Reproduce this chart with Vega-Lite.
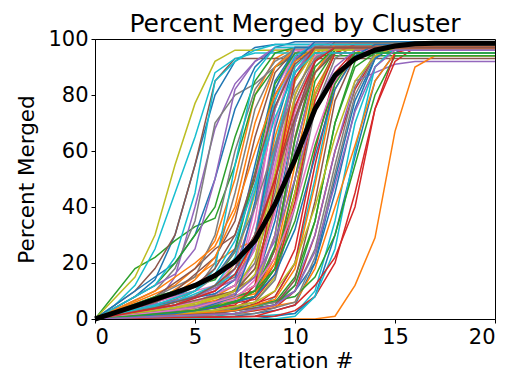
{
  "$schema": "https://vega.github.io/schema/vega-lite/v6.json",
  "width": 400,
  "height": 280,
  "padding": {"left": 16, "top": 12, "right": 5, "bottom": 0},
  "title": {"text": "Percent Merged by Cluster", "font": "DejaVu Sans", "fontSize": 25, "fontWeight": "normal", "color": "black", "offset": -9},
  "config": {
    "view": {"stroke": "black", "strokeWidth": 1},
    "axis": {"labelFont": "DejaVu Sans", "titleFont": "DejaVu Sans", "labelFontSize": 21, "titleFontSize": 21.5, "titleFontWeight": "normal", "labelColor": "black", "titleColor": "black", "domainColor": "black", "tickColor": "black", "tickSize": 4, "grid": false}
  },
  "datasets": {
    "c": [
      {"s":0,"x":0,"y":0},{"s":0,"x":2,"y":8},{"s":0,"x":3,"y":14},{"s":0,"x":4,"y":30},{"s":0,"x":5,"y":55},{"s":0,"x":6,"y":80},{"s":0,"x":7,"y":92},{"s":0,"x":8,"y":97},{"s":0,"x":9,"y":98},{"s":0,"x":20,"y":98},
      {"s":1,"x":0,"y":0},{"s":1,"x":2,"y":6},{"s":1,"x":4,"y":12},{"s":1,"x":5,"y":18},{"s":1,"x":6,"y":28},{"s":1,"x":7,"y":50},{"s":1,"x":8,"y":80},{"s":1,"x":9,"y":93},{"s":1,"x":10,"y":97},{"s":1,"x":20,"y":97},
      {"s":2,"x":0,"y":0},{"s":2,"x":2,"y":18},{"s":2,"x":3,"y":22},{"s":2,"x":4,"y":28},{"s":2,"x":5,"y":33},{"s":2,"x":6,"y":36},{"s":2,"x":7,"y":55},{"s":2,"x":8,"y":80},{"s":2,"x":9,"y":90},{"s":2,"x":10,"y":94},{"s":2,"x":20,"y":94},
      {"s":3,"x":0,"y":0},{"s":3,"x":3,"y":4},{"s":3,"x":5,"y":8},{"s":3,"x":6,"y":12},{"s":3,"x":7,"y":18},{"s":3,"x":8,"y":30},{"s":3,"x":9,"y":60},{"s":3,"x":10,"y":88},{"s":3,"x":11,"y":97},{"s":3,"x":12,"y":99},{"s":3,"x":20,"y":99},
      {"s":4,"x":0,"y":0},{"s":4,"x":3,"y":5},{"s":4,"x":4,"y":15},{"s":4,"x":5,"y":40},{"s":4,"x":6,"y":68},{"s":4,"x":7,"y":84},{"s":4,"x":8,"y":92},{"s":4,"x":9,"y":96},{"s":4,"x":20,"y":96},
      {"s":5,"x":0,"y":0},{"s":5,"x":2,"y":10},{"s":5,"x":3,"y":18},{"s":5,"x":4,"y":30},{"s":5,"x":5,"y":55},{"s":5,"x":6,"y":85},{"s":5,"x":7,"y":93},{"s":5,"x":20,"y":93},
      {"s":6,"x":0,"y":0},{"s":6,"x":4,"y":3},{"s":6,"x":6,"y":6},{"s":6,"x":7,"y":10},{"s":6,"x":8,"y":40},{"s":6,"x":9,"y":75},{"s":6,"x":10,"y":95},{"s":6,"x":11,"y":98},{"s":6,"x":20,"y":98},
      {"s":7,"x":0,"y":0},{"s":7,"x":3,"y":10},{"s":7,"x":4,"y":18},{"s":7,"x":5,"y":35},{"s":7,"x":6,"y":70},{"s":7,"x":7,"y":80},{"s":7,"x":8,"y":84},{"s":7,"x":9,"y":90},{"s":7,"x":10,"y":95},{"s":7,"x":11,"y":97},{"s":7,"x":20,"y":97},
      {"s":8,"x":0,"y":0},{"s":8,"x":2,"y":15},{"s":8,"x":3,"y":30},{"s":8,"x":4,"y":55},{"s":8,"x":5,"y":77},{"s":8,"x":6,"y":92},{"s":8,"x":7,"y":96},{"s":8,"x":20,"y":96},
      {"s":9,"x":0,"y":0},{"s":9,"x":1,"y":5},{"s":9,"x":2,"y":12},{"s":9,"x":3,"y":25},{"s":9,"x":4,"y":45},{"s":9,"x":5,"y":65},{"s":9,"x":6,"y":88},{"s":9,"x":7,"y":93},{"s":9,"x":8,"y":95},{"s":9,"x":20,"y":95},
      {"s":10,"x":0,"y":0},{"s":10,"x":2,"y":10},{"s":10,"x":4,"y":20},{"s":10,"x":5,"y":30},{"s":10,"x":6,"y":50},{"s":10,"x":7,"y":75},{"s":10,"x":8,"y":90},{"s":10,"x":9,"y":97},{"s":10,"x":10,"y":99},{"s":10,"x":20,"y":99},
      {"s":11,"x":0,"y":0},{"s":11,"x":3,"y":6},{"s":11,"x":5,"y":15},{"s":11,"x":6,"y":20},{"s":11,"x":7,"y":25},{"s":11,"x":8,"y":28},{"s":11,"x":9,"y":50},{"s":11,"x":10,"y":80},{"s":11,"x":11,"y":95},{"s":11,"x":12,"y":98},{"s":11,"x":20,"y":98},
      {"s":12,"x":0,"y":0},{"s":12,"x":3,"y":12},{"s":12,"x":4,"y":20},{"s":12,"x":5,"y":30},{"s":12,"x":6,"y":40},{"s":12,"x":7,"y":65},{"s":12,"x":8,"y":85},{"s":12,"x":9,"y":95},{"s":12,"x":10,"y":97},{"s":12,"x":20,"y":97},
      {"s":13,"x":0,"y":0},{"s":13,"x":5,"y":2},{"s":13,"x":7,"y":4},{"s":13,"x":8,"y":8},{"s":13,"x":9,"y":20},{"s":13,"x":10,"y":45},{"s":13,"x":11,"y":80},{"s":13,"x":12,"y":95},{"s":13,"x":13,"y":98},{"s":13,"x":20,"y":98},
      {"s":14,"x":0,"y":0},{"s":14,"x":2,"y":8},{"s":14,"x":4,"y":16},{"s":14,"x":5,"y":25},{"s":14,"x":6,"y":50},{"s":14,"x":7,"y":82},{"s":14,"x":8,"y":92},{"s":14,"x":9,"y":97},{"s":14,"x":20,"y":97},
      {"s":15,"x":0,"y":0},{"s":15,"x":3,"y":8},{"s":15,"x":5,"y":18},{"s":15,"x":6,"y":25},{"s":15,"x":7,"y":30},{"s":15,"x":8,"y":50},{"s":15,"x":9,"y":80},{"s":15,"x":10,"y":93},{"s":15,"x":11,"y":98},{"s":15,"x":20,"y":98},
      {"s":16,"x":0,"y":0},{"s":16,"x":5,"y":5},{"s":16,"x":7,"y":10},{"s":16,"x":8,"y":20},{"s":16,"x":9,"y":55},{"s":16,"x":10,"y":85},{"s":16,"x":11,"y":96},{"s":16,"x":12,"y":99},{"s":16,"x":20,"y":99},
      {"s":17,"x":0,"y":0},{"s":17,"x":3,"y":8},{"s":17,"x":5,"y":15},{"s":17,"x":6,"y":30},{"s":17,"x":7,"y":60},{"s":17,"x":8,"y":82},{"s":17,"x":9,"y":92},{"s":17,"x":10,"y":96},{"s":17,"x":20,"y":96},
      {"s":18,"x":0,"y":0},{"s":18,"x":4,"y":6},{"s":18,"x":6,"y":10},{"s":18,"x":7,"y":20},{"s":18,"x":8,"y":45},{"s":18,"x":9,"y":75},{"s":18,"x":10,"y":92},{"s":18,"x":11,"y":98},{"s":18,"x":20,"y":98},
      {"s":19,"x":0,"y":0},{"s":19,"x":3,"y":12},{"s":19,"x":4,"y":22},{"s":19,"x":5,"y":45},{"s":19,"x":6,"y":85},{"s":19,"x":7,"y":92},{"s":19,"x":8,"y":96},{"s":19,"x":9,"y":98},{"s":19,"x":20,"y":98},
      {"s":20,"x":0,"y":0},{"s":20,"x":5,"y":4},{"s":20,"x":7,"y":8},{"s":20,"x":8,"y":12},{"s":20,"x":9,"y":35},{"s":20,"x":10,"y":70},{"s":20,"x":11,"y":92},{"s":20,"x":12,"y":98},{"s":20,"x":20,"y":98},
      {"s":21,"x":0,"y":0},{"s":21,"x":4,"y":4},{"s":21,"x":6,"y":8},{"s":21,"x":7,"y":12},{"s":21,"x":8,"y":30},{"s":21,"x":9,"y":65},{"s":21,"x":10,"y":88},{"s":21,"x":11,"y":96},{"s":21,"x":20,"y":96},
      {"s":22,"x":0,"y":0},{"s":22,"x":4,"y":3},{"s":22,"x":6,"y":5},{"s":22,"x":8,"y":8},{"s":22,"x":9,"y":25},{"s":22,"x":10,"y":60},{"s":22,"x":11,"y":88},{"s":22,"x":12,"y":96},{"s":22,"x":13,"y":98},{"s":22,"x":20,"y":98},
      {"s":23,"x":0,"y":0},{"s":23,"x":6,"y":2},{"s":23,"x":8,"y":5},{"s":23,"x":9,"y":10},{"s":23,"x":10,"y":25},{"s":23,"x":11,"y":60},{"s":23,"x":12,"y":88},{"s":23,"x":13,"y":96},{"s":23,"x":14,"y":98},{"s":23,"x":20,"y":98},
      {"s":24,"x":0,"y":0},{"s":24,"x":5,"y":6},{"s":24,"x":7,"y":12},{"s":24,"x":8,"y":25},{"s":24,"x":9,"y":60},{"s":24,"x":10,"y":88},{"s":24,"x":11,"y":97},{"s":24,"x":20,"y":97},
      {"s":25,"x":0,"y":0},{"s":25,"x":4,"y":10},{"s":25,"x":5,"y":16},{"s":25,"x":6,"y":22},{"s":25,"x":7,"y":35},{"s":25,"x":8,"y":65},{"s":25,"x":9,"y":88},{"s":25,"x":10,"y":96},{"s":25,"x":20,"y":96},
      {"s":26,"x":0,"y":0},{"s":26,"x":4,"y":2},{"s":26,"x":6,"y":4},{"s":26,"x":7,"y":8},{"s":26,"x":8,"y":30},{"s":26,"x":9,"y":70},{"s":26,"x":10,"y":94},{"s":26,"x":11,"y":99},{"s":26,"x":20,"y":99},
      {"s":27,"x":0,"y":0},{"s":27,"x":2,"y":5},{"s":27,"x":5,"y":10},{"s":27,"x":6,"y":20},{"s":27,"x":7,"y":45},{"s":27,"x":8,"y":75},{"s":27,"x":9,"y":90},{"s":27,"x":10,"y":97},{"s":27,"x":20,"y":97},
      {"s":28,"x":0,"y":0},{"s":28,"x":5,"y":3},{"s":28,"x":7,"y":6},{"s":28,"x":8,"y":10},{"s":28,"x":9,"y":30},{"s":28,"x":10,"y":70},{"s":28,"x":11,"y":93},{"s":28,"x":12,"y":98},{"s":28,"x":20,"y":98},
      {"s":29,"x":0,"y":0},{"s":29,"x":6,"y":1},{"s":29,"x":8,"y":3},{"s":29,"x":9,"y":8},{"s":29,"x":10,"y":20},{"s":29,"x":11,"y":50},{"s":29,"x":12,"y":85},{"s":29,"x":13,"y":96},{"s":29,"x":14,"y":99},{"s":29,"x":20,"y":99},
      {"s":30,"x":0,"y":0},{"s":30,"x":7,"y":1},{"s":30,"x":9,"y":3},{"s":30,"x":10,"y":5},{"s":30,"x":11,"y":20},{"s":30,"x":12,"y":50},{"s":30,"x":13,"y":78},{"s":30,"x":14,"y":93},{"s":30,"x":15,"y":98},{"s":30,"x":20,"y":98},
      {"s":31,"x":0,"y":0},{"s":31,"x":5,"y":5},{"s":31,"x":8,"y":10},{"s":31,"x":9,"y":20},{"s":31,"x":10,"y":50},{"s":31,"x":11,"y":82},{"s":31,"x":12,"y":95},{"s":31,"x":13,"y":98},{"s":31,"x":20,"y":98},
      {"s":32,"x":0,"y":0},{"s":32,"x":6,"y":2},{"s":32,"x":9,"y":6},{"s":32,"x":10,"y":15},{"s":32,"x":11,"y":35},{"s":32,"x":12,"y":70},{"s":32,"x":13,"y":92},{"s":32,"x":14,"y":97},{"s":32,"x":20,"y":97},
      {"s":33,"x":0,"y":0},{"s":33,"x":7,"y":2},{"s":33,"x":9,"y":4},{"s":33,"x":10,"y":10},{"s":33,"x":11,"y":30},{"s":33,"x":12,"y":60},{"s":33,"x":13,"y":82},{"s":33,"x":14,"y":94},{"s":33,"x":15,"y":97},{"s":33,"x":20,"y":97},
      {"s":34,"x":0,"y":0},{"s":34,"x":6,"y":3},{"s":34,"x":9,"y":6},{"s":34,"x":10,"y":12},{"s":34,"x":11,"y":30},{"s":34,"x":12,"y":60},{"s":34,"x":13,"y":85},{"s":34,"x":14,"y":88},{"s":34,"x":15,"y":91},{"s":34,"x":16,"y":92},{"s":34,"x":20,"y":92},
      {"s":35,"x":0,"y":0},{"s":35,"x":6,"y":4},{"s":35,"x":8,"y":8},{"s":35,"x":9,"y":18},{"s":35,"x":10,"y":45},{"s":35,"x":11,"y":80},{"s":35,"x":12,"y":96},{"s":35,"x":13,"y":99},{"s":35,"x":20,"y":99},
      {"s":36,"x":0,"y":0},{"s":36,"x":5,"y":8},{"s":36,"x":7,"y":14},{"s":36,"x":8,"y":25},{"s":36,"x":9,"y":55},{"s":36,"x":10,"y":85},{"s":36,"x":11,"y":97},{"s":36,"x":20,"y":97},
      {"s":37,"x":0,"y":0},{"s":37,"x":6,"y":3},{"s":37,"x":9,"y":6},{"s":37,"x":10,"y":10},{"s":37,"x":11,"y":25},{"s":37,"x":12,"y":55},{"s":37,"x":13,"y":83},{"s":37,"x":14,"y":95},{"s":37,"x":15,"y":98},{"s":37,"x":20,"y":98},
      {"s":38,"x":0,"y":0},{"s":38,"x":5,"y":2},{"s":38,"x":8,"y":6},{"s":38,"x":9,"y":15},{"s":38,"x":10,"y":45},{"s":38,"x":11,"y":80},{"s":38,"x":12,"y":95},{"s":38,"x":13,"y":99},{"s":38,"x":20,"y":99},
      {"s":39,"x":0,"y":0},{"s":39,"x":8,"y":1},{"s":39,"x":10,"y":2},{"s":39,"x":11,"y":10},{"s":39,"x":12,"y":35},{"s":39,"x":13,"y":70},{"s":39,"x":14,"y":90},{"s":39,"x":15,"y":97},{"s":39,"x":20,"y":97},
      {"s":40,"x":0,"y":0},{"s":40,"x":8,"y":0},{"s":40,"x":10,"y":2},{"s":40,"x":11,"y":8},{"s":40,"x":12,"y":30},{"s":40,"x":13,"y":58},{"s":40,"x":14,"y":85},{"s":40,"x":15,"y":95},{"s":40,"x":16,"y":99},{"s":40,"x":20,"y":99},
      {"s":41,"x":0,"y":0},{"s":41,"x":11,"y":0},{"s":41,"x":12,"y":1},{"s":41,"x":13,"y":12},{"s":41,"x":14,"y":29},{"s":41,"x":15,"y":67},{"s":41,"x":16,"y":90},{"s":41,"x":17,"y":94},{"s":41,"x":20,"y":94},
      {"s":42,"x":0,"y":0},{"s":42,"x":7,"y":2},{"s":42,"x":9,"y":5},{"s":42,"x":10,"y":12},{"s":42,"x":11,"y":35},{"s":42,"x":12,"y":70},{"s":42,"x":13,"y":90},{"s":42,"x":14,"y":95},{"s":42,"x":15,"y":96},{"s":42,"x":20,"y":96},
      {"s":43,"x":0,"y":0},{"s":43,"x":9,"y":1},{"s":43,"x":10,"y":3},{"s":43,"x":11,"y":8},{"s":43,"x":12,"y":20},{"s":43,"x":13,"y":45},{"s":43,"x":14,"y":75},{"s":43,"x":15,"y":92},{"s":43,"x":16,"y":97},{"s":43,"x":20,"y":97},
      {"s":44,"x":0,"y":0},{"s":44,"x":6,"y":5},{"s":44,"x":8,"y":10},{"s":44,"x":9,"y":25},{"s":44,"x":10,"y":60},{"s":44,"x":11,"y":88},{"s":44,"x":12,"y":97},{"s":44,"x":20,"y":97},
      {"s":45,"x":0,"y":0},{"s":45,"x":6,"y":6},{"s":45,"x":8,"y":15},{"s":45,"x":9,"y":40},{"s":45,"x":10,"y":75},{"s":45,"x":11,"y":93},{"s":45,"x":12,"y":98},{"s":45,"x":20,"y":98},
      {"s":46,"x":0,"y":0},{"s":46,"x":6,"y":4},{"s":46,"x":8,"y":10},{"s":46,"x":9,"y":40},{"s":46,"x":10,"y":80},{"s":46,"x":11,"y":96},{"s":46,"x":20,"y":96},
      {"s":47,"x":0,"y":0},{"s":47,"x":5,"y":6},{"s":47,"x":7,"y":12},{"s":47,"x":8,"y":20},{"s":47,"x":9,"y":45},{"s":47,"x":10,"y":78},{"s":47,"x":11,"y":93},{"s":47,"x":12,"y":97},{"s":47,"x":20,"y":97},
      {"s":48,"x":0,"y":0},{"s":48,"x":4,"y":4},{"s":48,"x":7,"y":10},{"s":48,"x":8,"y":18},{"s":48,"x":9,"y":50},{"s":48,"x":10,"y":85},{"s":48,"x":11,"y":96},{"s":48,"x":20,"y":96},
      {"s":49,"x":0,"y":0},{"s":49,"x":9,"y":0},{"s":49,"x":10,"y":1},{"s":49,"x":11,"y":8},{"s":49,"x":12,"y":25},{"s":49,"x":13,"y":60},{"s":49,"x":14,"y":90},{"s":49,"x":15,"y":97},{"s":49,"x":20,"y":97},
      {"s":50,"x":0,"y":0},{"s":50,"x":4,"y":8},{"s":50,"x":6,"y":15},{"s":50,"x":7,"y":25},{"s":50,"x":8,"y":55},{"s":50,"x":9,"y":85},{"s":50,"x":10,"y":96},{"s":50,"x":20,"y":96},
      {"s":51,"x":0,"y":0},{"s":51,"x":3,"y":10},{"s":51,"x":5,"y":20},{"s":51,"x":6,"y":26},{"s":51,"x":7,"y":40},{"s":51,"x":8,"y":70},{"s":51,"x":9,"y":90},{"s":51,"x":10,"y":96},{"s":51,"x":20,"y":96},
      {"s":52,"x":0,"y":0},{"s":52,"x":5,"y":3},{"s":52,"x":8,"y":8},{"s":52,"x":9,"y":18},{"s":52,"x":10,"y":50},{"s":52,"x":11,"y":85},{"s":52,"x":12,"y":96},{"s":52,"x":20,"y":96},
      {"s":53,"x":0,"y":0},{"s":53,"x":7,"y":3},{"s":53,"x":9,"y":8},{"s":53,"x":10,"y":20},{"s":53,"x":11,"y":55},{"s":53,"x":12,"y":85},{"s":53,"x":13,"y":96},{"s":53,"x":20,"y":96},
      {"s":54,"x":0,"y":0},{"s":54,"x":4,"y":5},{"s":54,"x":6,"y":10},{"s":54,"x":7,"y":18},{"s":54,"x":8,"y":40},{"s":54,"x":9,"y":75},{"s":54,"x":10,"y":93},{"s":54,"x":11,"y":98},{"s":54,"x":20,"y":98},
      {"s":55,"x":0,"y":0},{"s":55,"x":7,"y":3},{"s":55,"x":8,"y":8},{"s":55,"x":9,"y":25},{"s":55,"x":10,"y":65},{"s":55,"x":11,"y":92},{"s":55,"x":12,"y":99},{"s":55,"x":20,"y":99},
      {"s":56,"x":0,"y":0},{"s":56,"x":5,"y":6},{"s":56,"x":7,"y":12},{"s":56,"x":8,"y":35},{"s":56,"x":9,"y":78},{"s":56,"x":10,"y":96},{"s":56,"x":20,"y":96},
      {"s":57,"x":0,"y":0},{"s":57,"x":4,"y":5},{"s":57,"x":7,"y":15},{"s":57,"x":8,"y":30},{"s":57,"x":9,"y":60},{"s":57,"x":10,"y":88},{"s":57,"x":11,"y":97},{"s":57,"x":20,"y":97},
      {"s":58,"x":0,"y":0},{"s":58,"x":6,"y":4},{"s":58,"x":8,"y":12},{"s":58,"x":9,"y":30},{"s":58,"x":10,"y":70},{"s":58,"x":11,"y":94},{"s":58,"x":12,"y":98},{"s":58,"x":20,"y":98},
      {"s":59,"x":0,"y":0},{"s":59,"x":4,"y":6},{"s":59,"x":5,"y":10},{"s":59,"x":6,"y":18},{"s":59,"x":7,"y":55},{"s":59,"x":8,"y":88},{"s":59,"x":9,"y":97},{"s":59,"x":20,"y":97},
      {"s":60,"x":0,"y":0},{"s":60,"x":6,"y":2},{"s":60,"x":9,"y":5},{"s":60,"x":10,"y":10},{"s":60,"x":11,"y":20},{"s":60,"x":12,"y":45},{"s":60,"x":13,"y":75},{"s":60,"x":14,"y":93},{"s":60,"x":15,"y":98},{"s":60,"x":20,"y":98},
      {"s":61,"x":0,"y":0},{"s":61,"x":7,"y":2},{"s":61,"x":10,"y":6},{"s":61,"x":11,"y":18},{"s":61,"x":12,"y":40},{"s":61,"x":13,"y":62},{"s":61,"x":14,"y":85},{"s":61,"x":15,"y":95},{"s":61,"x":20,"y":95},
      {"s":62,"x":0,"y":0},{"s":62,"x":6,"y":2},{"s":62,"x":10,"y":8},{"s":62,"x":11,"y":15},{"s":62,"x":12,"y":30},{"s":62,"x":13,"y":55},{"s":62,"x":14,"y":80},{"s":62,"x":15,"y":94},{"s":62,"x":20,"y":94},
      {"s":63,"x":0,"y":0},{"s":63,"x":8,"y":1},{"s":63,"x":10,"y":5},{"s":63,"x":11,"y":12},{"s":63,"x":12,"y":22},{"s":63,"x":13,"y":40},{"s":63,"x":14,"y":75},{"s":63,"x":15,"y":95},{"s":63,"x":16,"y":97},{"s":63,"x":20,"y":97},
      {"s":64,"x":0,"y":0},{"s":64,"x":3,"y":3},{"s":64,"x":6,"y":6},{"s":64,"x":8,"y":10},{"s":64,"x":9,"y":30},{"s":64,"x":10,"y":70},{"s":64,"x":11,"y":93},{"s":64,"x":12,"y":98},{"s":64,"x":20,"y":98},
      {"s":65,"x":0,"y":0},{"s":65,"x":4,"y":5},{"s":65,"x":7,"y":10},{"s":65,"x":8,"y":18},{"s":65,"x":9,"y":40},{"s":65,"x":10,"y":72},{"s":65,"x":11,"y":92},{"s":65,"x":12,"y":97},{"s":65,"x":20,"y":97},
      {"s":66,"x":0,"y":0},{"s":66,"x":3,"y":6},{"s":66,"x":6,"y":12},{"s":66,"x":7,"y":20},{"s":66,"x":8,"y":48},{"s":66,"x":9,"y":82},{"s":66,"x":10,"y":95},{"s":66,"x":20,"y":95},
      {"s":67,"x":0,"y":0},{"s":67,"x":6,"y":3},{"s":67,"x":8,"y":6},{"s":67,"x":9,"y":14},{"s":67,"x":10,"y":40},{"s":67,"x":11,"y":75},{"s":67,"x":12,"y":93},{"s":67,"x":13,"y":98},{"s":67,"x":20,"y":98},
      {"s":68,"x":0,"y":0},{"s":68,"x":4,"y":4},{"s":68,"x":7,"y":9},{"s":68,"x":8,"y":16},{"s":68,"x":9,"y":42},{"s":68,"x":10,"y":80},{"s":68,"x":11,"y":96},{"s":68,"x":20,"y":96},
      {"s":69,"x":0,"y":0},{"s":69,"x":5,"y":8},{"s":69,"x":7,"y":16},{"s":69,"x":8,"y":30},{"s":69,"x":9,"y":62},{"s":69,"x":10,"y":90},{"s":69,"x":11,"y":97},{"s":69,"x":20,"y":97},
      {"s":70,"x":0,"y":0},{"s":70,"x":3,"y":5},{"s":70,"x":6,"y":9},{"s":70,"x":7,"y":14},{"s":70,"x":8,"y":42},{"s":70,"x":9,"y":82},{"s":70,"x":10,"y":97},{"s":70,"x":20,"y":97},
      {"s":71,"x":0,"y":0},{"s":71,"x":5,"y":4},{"s":71,"x":8,"y":9},{"s":71,"x":9,"y":22},{"s":71,"x":10,"y":55},{"s":71,"x":11,"y":88},{"s":71,"x":12,"y":98},{"s":71,"x":20,"y":98},
      {"s":72,"x":0,"y":0},{"s":72,"x":3,"y":8},{"s":72,"x":6,"y":14},{"s":72,"x":7,"y":24},{"s":72,"x":8,"y":52},{"s":72,"x":9,"y":84},{"s":72,"x":10,"y":95},{"s":72,"x":20,"y":95},
      {"s":73,"x":0,"y":0},{"s":73,"x":5,"y":3},{"s":73,"x":8,"y":7},{"s":73,"x":9,"y":16},{"s":73,"x":10,"y":42},{"s":73,"x":11,"y":78},{"s":73,"x":12,"y":95},{"s":73,"x":13,"y":98},{"s":73,"x":20,"y":98},
      {"s":74,"x":0,"y":0},{"s":74,"x":2,"y":4},{"s":74,"x":5,"y":8},{"s":74,"x":7,"y":14},{"s":74,"x":8,"y":26},{"s":74,"x":9,"y":58},{"s":74,"x":10,"y":88},{"s":74,"x":11,"y":98},{"s":74,"x":20,"y":98},
      {"s":75,"x":0,"y":0},{"s":75,"x":6,"y":2},{"s":75,"x":9,"y":5},{"s":75,"x":10,"y":14},{"s":75,"x":11,"y":42},{"s":75,"x":12,"y":78},{"s":75,"x":13,"y":94},{"s":75,"x":14,"y":97},{"s":75,"x":20,"y":97},
      {"s":76,"x":0,"y":0},{"s":76,"x":4,"y":3},{"s":76,"x":7,"y":7},{"s":76,"x":8,"y":14},{"s":76,"x":9,"y":38},{"s":76,"x":10,"y":74},{"s":76,"x":11,"y":94},{"s":76,"x":12,"y":97},{"s":76,"x":20,"y":97},
      {"s":77,"x":0,"y":0},{"s":77,"x":8,"y":2},{"s":77,"x":10,"y":6},{"s":77,"x":11,"y":22},{"s":77,"x":12,"y":52},{"s":77,"x":13,"y":80},{"s":77,"x":14,"y":94},{"s":77,"x":15,"y":97},{"s":77,"x":20,"y":97},
      {"s":78,"x":0,"y":0},{"s":78,"x":5,"y":5},{"s":78,"x":7,"y":10},{"s":78,"x":8,"y":22},{"s":78,"x":9,"y":52},{"s":78,"x":10,"y":86},{"s":78,"x":11,"y":96},{"s":78,"x":20,"y":96},
      {"s":79,"x":0,"y":0},{"s":79,"x":4,"y":6},{"s":79,"x":6,"y":12},{"s":79,"x":7,"y":22},{"s":79,"x":8,"y":46},{"s":79,"x":9,"y":78},{"s":79,"x":10,"y":94},{"s":79,"x":11,"y":98},{"s":79,"x":20,"y":98},
      {"s":80,"x":0,"y":0},{"s":80,"x":5,"y":3},{"s":80,"x":7,"y":8},{"s":80,"x":8,"y":28},{"s":80,"x":9,"y":68},{"s":80,"x":10,"y":92},{"s":80,"x":11,"y":99},{"s":80,"x":20,"y":99},
      {"s":81,"x":0,"y":0},{"s":81,"x":7,"y":3},{"s":81,"x":9,"y":7},{"s":81,"x":10,"y":18},{"s":81,"x":11,"y":48},{"s":81,"x":12,"y":82},{"s":81,"x":13,"y":95},{"s":81,"x":14,"y":98},{"s":81,"x":20,"y":98},
      {"s":82,"x":0,"y":0},{"s":82,"x":5,"y":4},{"s":82,"x":8,"y":10},{"s":82,"x":9,"y":26},{"s":82,"x":10,"y":64},{"s":82,"x":11,"y":90},{"s":82,"x":12,"y":97},{"s":82,"x":20,"y":97},
      {"s":83,"x":0,"y":0},{"s":83,"x":4,"y":2},{"s":83,"x":7,"y":5},{"s":83,"x":8,"y":12},{"s":83,"x":9,"y":48},{"s":83,"x":10,"y":86},{"s":83,"x":11,"y":97},{"s":83,"x":20,"y":97},
      {"s":84,"x":0,"y":0},{"s":84,"x":4,"y":3},{"s":84,"x":6,"y":6},{"s":84,"x":7,"y":9},{"s":84,"x":8,"y":15},{"s":84,"x":9,"y":28},{"s":84,"x":10,"y":50},{"s":84,"x":11,"y":75},{"s":84,"x":12,"y":90},{"s":84,"x":13,"y":96},{"s":84,"x":20,"y":96},
      {"s":85,"x":0,"y":0},{"s":85,"x":3,"y":4},{"s":85,"x":5,"y":8},{"s":85,"x":6,"y":12},{"s":85,"x":7,"y":18},{"s":85,"x":8,"y":30},{"s":85,"x":9,"y":50},{"s":85,"x":10,"y":72},{"s":85,"x":11,"y":88},{"s":85,"x":12,"y":95},{"s":85,"x":20,"y":95},
      {"s":86,"x":0,"y":0},{"s":86,"x":5,"y":4},{"s":86,"x":7,"y":8},{"s":86,"x":8,"y":12},{"s":86,"x":9,"y":22},{"s":86,"x":10,"y":40},{"s":86,"x":11,"y":65},{"s":86,"x":12,"y":85},{"s":86,"x":13,"y":94},{"s":86,"x":14,"y":97},{"s":86,"x":20,"y":97},
      {"s":87,"x":0,"y":0},{"s":87,"x":2,"y":3},{"s":87,"x":4,"y":7},{"s":87,"x":5,"y":10},{"s":87,"x":6,"y":15},{"s":87,"x":7,"y":24},{"s":87,"x":8,"y":40},{"s":87,"x":9,"y":62},{"s":87,"x":10,"y":82},{"s":87,"x":11,"y":93},{"s":87,"x":12,"y":97},{"s":87,"x":20,"y":97},
      {"s":88,"x":0,"y":0},{"s":88,"x":6,"y":3},{"s":88,"x":8,"y":6},{"s":88,"x":9,"y":10},{"s":88,"x":10,"y":20},{"s":88,"x":11,"y":40},{"s":88,"x":12,"y":65},{"s":88,"x":13,"y":85},{"s":88,"x":14,"y":94},{"s":88,"x":15,"y":97},{"s":88,"x":20,"y":97},
      {"s":89,"x":0,"y":0},{"s":89,"x":3,"y":5},{"s":89,"x":5,"y":10},{"s":89,"x":6,"y":16},{"s":89,"x":7,"y":28},{"s":89,"x":8,"y":48},{"s":89,"x":9,"y":72},{"s":89,"x":10,"y":88},{"s":89,"x":11,"y":95},{"s":89,"x":20,"y":95},
      {"s":90,"x":0,"y":0},{"s":90,"x":4,"y":2},{"s":90,"x":6,"y":4},{"s":90,"x":8,"y":8},{"s":90,"x":9,"y":16},{"s":90,"x":10,"y":32},{"s":90,"x":11,"y":58},{"s":90,"x":12,"y":82},{"s":90,"x":13,"y":94},{"s":90,"x":14,"y":98},{"s":90,"x":20,"y":98},
      {"s":91,"x":0,"y":0},{"s":91,"x":2,"y":4},{"s":91,"x":4,"y":9},{"s":91,"x":5,"y":14},{"s":91,"x":6,"y":22},{"s":91,"x":7,"y":38},{"s":91,"x":8,"y":60},{"s":91,"x":9,"y":80},{"s":91,"x":10,"y":92},{"s":91,"x":11,"y":97},{"s":91,"x":20,"y":97},
      {"s":92,"x":0,"y":0},{"s":92,"x":5,"y":3},{"s":92,"x":7,"y":6},{"s":92,"x":8,"y":10},{"s":92,"x":9,"y":18},{"s":92,"x":10,"y":35},{"s":92,"x":11,"y":62},{"s":92,"x":12,"y":84},{"s":92,"x":13,"y":95},{"s":92,"x":20,"y":95},
      {"s":93,"x":0,"y":0},{"s":93,"x":4,"y":5},{"s":93,"x":6,"y":10},{"s":93,"x":7,"y":16},{"s":93,"x":8,"y":28},{"s":93,"x":9,"y":50},{"s":93,"x":10,"y":76},{"s":93,"x":11,"y":92},{"s":93,"x":12,"y":97},{"s":93,"x":20,"y":97},
      {"s":94,"x":0,"y":0},{"s":94,"x":7,"y":2},{"s":94,"x":9,"y":5},{"s":94,"x":10,"y":10},{"s":94,"x":11,"y":24},{"s":94,"x":12,"y":48},{"s":94,"x":13,"y":74},{"s":94,"x":14,"y":90},{"s":94,"x":15,"y":96},{"s":94,"x":20,"y":96},
      {"s":95,"x":0,"y":0},{"s":95,"x":3,"y":6},{"s":95,"x":5,"y":12},{"s":95,"x":6,"y":18},{"s":95,"x":7,"y":30},{"s":95,"x":8,"y":52},{"s":95,"x":9,"y":76},{"s":95,"x":10,"y":91},{"s":95,"x":11,"y":97},{"s":95,"x":20,"y":97}
    ],
    "m": [
      {"x":0,"y":0},{"x":1,"y":2.3},{"x":2,"y":4.6},{"x":3,"y":7},{"x":4,"y":9.3},{"x":5,"y":12},{"x":6,"y":15.5},{"x":7,"y":20.5},{"x":8,"y":28},{"x":9,"y":41},{"x":10,"y":57},{"x":11,"y":75},{"x":12,"y":87},{"x":13,"y":93},{"x":14,"y":96},{"x":15,"y":97.5},{"x":16,"y":98.3},{"x":17,"y":98.5},{"x":18,"y":98.5},{"x":19,"y":98.5},{"x":20,"y":98.5}
    ]
  },
  "layer": [
    {
      "data": {"name": "c"},
      "mark": {"type": "line", "strokeWidth": 1.5, "clip": true},
      "encoding": {
        "x": {"field": "x", "type": "quantitative", "scale": {"domain": [0, 20], "nice": false}, "axis": {"values": [0, 5, 10, 15, 20], "title": "Iteration #", "titlePadding": 3, "labelPadding": 3}},
        "y": {"field": "y", "type": "quantitative", "scale": {"domain": [0, 100], "nice": false}, "axis": {"values": [0, 20, 40, 60, 80, 100], "title": "Percent Merged", "titlePadding": 9, "labelPadding": 3}},
        "color": {"field": "s", "type": "nominal", "legend": null, "scale": {"range": ["#1f77b4", "#ff7f0e", "#2ca02c", "#d62728", "#9467bd", "#8c564b", "#e377c2", "#7f7f7f", "#bcbd22", "#17becf"]}},
        "detail": {"field": "s"}
      }
    },
    {
      "data": {"name": "m"},
      "mark": {"type": "line", "color": "black", "strokeWidth": 5},
      "encoding": {
        "x": {"field": "x", "type": "quantitative"},
        "y": {"field": "y", "type": "quantitative"}
      }
    }
  ]
}
